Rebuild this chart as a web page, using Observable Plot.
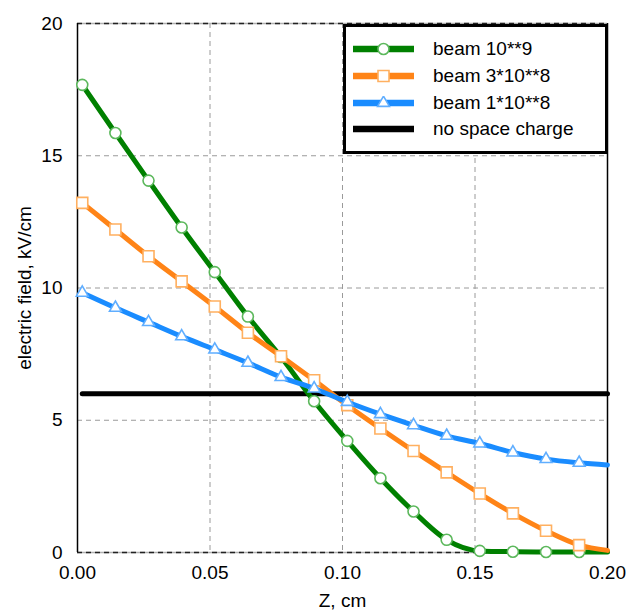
<!DOCTYPE html>
<html>
<head>
<meta charset="utf-8">
<script src="https://cdn.jsdelivr.net/npm/d3@7"></script>
<script src="https://cdn.jsdelivr.net/npm/@observablehq/plot@0.6"></script>
<style>
  html, body { margin: 0; padding: 0; background: #fff; }
  #wrap { position: relative; width: 626px; height: 615px; font-family: "Liberation Sans", Arial, sans-serif; }
  #legend { position: absolute; left: 343px; top: 24px; width: 265px; height: 130px; box-sizing: border-box;
            border: 3px solid #000; background: #fff; padding-top: 9px; }
  .row { display: flex; align-items: center; height: 26.7px; font-size: 19px; color: #000; }
  .row svg { margin-left: 7px; margin-right: 19px; flex: none; }
</style>
</head>
<body>
<div id="wrap"></div>
<script>
// ---- data ----
const zPos    = [0.0018, 0.0143, 0.0268, 0.0393, 0.0518, 0.0643, 0.0768, 0.0893, 0.1018, 0.1143, 0.1268, 0.1393, 0.1518, 0.1643, 0.1768, 0.1893, 0.2];
const beam1e9 = [17.68, 15.86, 14.06, 12.29, 10.60, 8.92, 7.39, 5.72, 4.22, 2.81, 1.55, 0.48, 0.06, 0.03, 0.02, 0.02, 0.02];
const beam3e8 = [13.22, 12.21, 11.20, 10.25, 9.30, 8.31, 7.42, 6.51, 5.57, 4.69, 3.84, 3.03, 2.23, 1.48, 0.82, 0.28, 0.08];
const beam1e8 = [9.82, 9.25, 8.71, 8.17, 7.67, 7.17, 6.63, 6.20, 5.69, 5.23, 4.81, 4.41, 4.12, 3.78, 3.53, 3.39, 3.31];
const noChargeZ = [0.0018, 0.2];
const noChargeE = [6, 6];
const markerCount = 16; // the last point (z = 0.2) carries no marker
const seriesNames = ["beam 10**9", "beam 3*10**8", "beam 1*10**8", "no space charge"];
const xTicks = [0, 0.05, 0.10, 0.15, 0.20];
const yTicks = [0, 5, 10, 15, 20];
const xGrid = [0.05, 0.10, 0.15];
const yGrid = [5, 10, 15];
const xTitle = "Z, cm";
const yTitle = "electric field, kV/cm";

// ---- styles ----
const lineColors   = ["#008000", "#ff8417", "#1a8cff", "#000000"];
const markerColors = ["#5cb85c", "#ffb060", "#60aeff", null];
const symbols      = ["circle", "square", "triangle", null];
const symbolR      = [5.5, 6.2, 4.4, 0];

const series = [beam1e9, beam3e8, beam1e8].map((vals, s) =>
  zPos.map((z, i) => ({z, e: vals[i], series: seriesNames[s], marked: i < markerCount})));
const noCharge = noChargeZ.map((z, i) => ({z, e: noChargeE[i]}));

const marks = [
  Plot.ruleX(xGrid, {stroke: "#9a9a9a", strokeWidth: 1, strokeDasharray: "5,4"}),
  Plot.ruleY(yGrid, {stroke: "#9a9a9a", strokeWidth: 1, strokeDasharray: "5,4"}),
  Plot.ruleY([0, 20], {stroke: "#b0b0b0", strokeWidth: 1.5}),
  Plot.ruleY([0, 20], {stroke: "#222", strokeWidth: 1.5, strokeDasharray: "5,4"}),
  Plot.ruleX([0, 0.2], {stroke: "#000", strokeWidth: 1.5}),
  Plot.axisX(xTicks, {tickSize: 0, tickPadding: 13, tickFormat: d => d.toFixed(2), label: null}),
  Plot.axisY(yTicks, {tickSize: 0, tickPadding: 15, label: null}),
  Plot.text([xTitle], {frameAnchor: "bottom", dy: 54, text: d => d, fontSize: 19}),
  Plot.text([yTitle], {frameAnchor: "left", textAnchor: "middle", dx: -53, rotate: -90, text: d => d, fontSize: 19}),
  Plot.line(noCharge, {x: "z", y: "e", stroke: lineColors[3], strokeWidth: 5})
];
series.forEach((data, s) => {
  marks.push(Plot.line(data, {x: "z", y: "e", stroke: lineColors[s], strokeWidth: 5, curve: "monotone-x"}));
  marks.push(Plot.dot(data.filter(d => d.marked), {x: "z", y: "e", symbol: () => symbols[s], r: symbolR[s],
    fill: "white", stroke: markerColors[s], strokeWidth: 1.6}));
});

const chart = Plot.plot({
  width: 626,
  height: 615,
  marginLeft: 77,
  marginRight: 19,
  marginTop: 23,
  marginBottom: 63,
  style: {fontFamily: "'Liberation Sans', Arial, sans-serif", fontSize: "19px", color: "#000", background: "#fff"},
  x: {domain: [0, 0.2]},
  y: {domain: [0, 20]},
  symbol: {type: "identity"},
  marks
});
const wrap = document.getElementById("wrap");
wrap.appendChild(chart);

// ---- legend ----
const legend = document.createElement("div");
legend.id = "legend";
seriesNames.forEach((name, s) => {
  const row = document.createElement("div");
  row.className = "row";
  const svg = d3.create("svg").attr("width", 61).attr("height", 14);
  svg.append("line").attr("x1", 0).attr("x2", 61).attr("y1", 7).attr("y2", 7)
     .attr("stroke", lineColors[s]).attr("stroke-width", 6.5);
  if (symbols[s]) {
    const sym = {circle: d3.symbolCircle, square: d3.symbolSquare, triangle: d3.symbolTriangle}[symbols[s]];
    svg.append("path").attr("transform", "translate(30.5,7)")
       .attr("d", d3.symbol(sym, Math.PI * symbolR[s] * symbolR[s])())
       .attr("fill", "white").attr("stroke", markerColors[s]).attr("stroke-width", 1.6);
  }
  row.appendChild(svg.node());
  const label = document.createElement("span");
  label.textContent = name;
  row.appendChild(label);
  legend.appendChild(row);
});
wrap.appendChild(legend);
</script>
</body>
</html>
